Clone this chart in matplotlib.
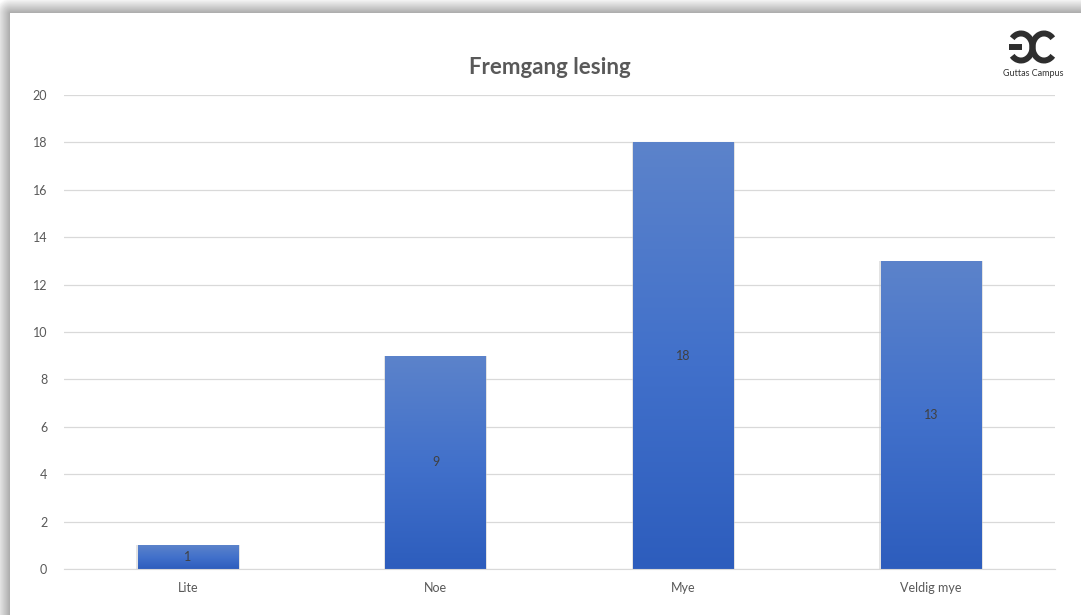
import matplotlib.pyplot as plt
import numpy as np
from matplotlib.colors import LinearSegmentedColormap
from matplotlib.patches import Arc

plt.rcParams['font.family'] = ['Lato', 'DejaVu Sans']

# data
categories = ['Lite', 'Noe', 'Mye', 'Veldig mye']
values = [1, 9, 18, 13]
yticks = [0, 2, 4, 6, 8, 10, 12, 14, 16, 18, 20]

W, H = 1081, 615
fig = plt.figure(figsize=(W / 100, H / 100), dpi=100)

# background: soft shadow around the white card (top and left)
bg = fig.add_axes([0, 0, 1, 1])
bg.set_axis_off()
xx, yy = np.meshgrid(np.arange(W), np.arange(H))
card_x0, card_y0 = 10, 13
dx = np.clip(card_x0 - xx, 0, None)
dy = np.clip(card_y0 - yy, 0, None)
d = np.sqrt(dx ** 2 + dy ** 2)
shade = np.where((xx >= card_x0) & (yy >= card_y0), 1.0, 0.66 + 0.022 * d)
shade = np.clip(shade, 0, 1)
bg.imshow(shade, cmap='gray', vmin=0, vmax=1, extent=[0, W, H, 0], aspect='auto')
bg.set_xlim(0, W)
bg.set_ylim(H, 0)

# logo (two arcs + bar)
lw = 4.3
bg.add_patch(Arc((1021, 47), 23, 27, theta1=-135, theta2=135, lw=lw, color='#2e2e2e'))
bg.plot([1009, 1022], [47, 47], color='#2e2e2e', lw=lw, solid_capstyle='butt')
bg.add_patch(Arc((1044, 47), 23, 27, theta1=45, theta2=315, lw=lw, color='#2e2e2e'))
bg.text(1033, 74, 'Guttas Campus', ha='center', va='center', fontsize=6.5, color='#333333')

ax = fig.add_axes([64 / W, 1 - 569 / H, 991 / W, 474 / H])
ax.set_facecolor('none')

x = np.arange(len(categories))
bars = ax.bar(x, values, width=0.405, color='none', zorder=3)

cmap = LinearSegmentedColormap.from_list('blu', ['#2d5dbd', '#4271cb', '#5c83ca'])
grad = np.linspace(0, 1, 256).reshape(-1, 1)
for b in bars:
    bx, by = b.get_x(), b.get_y()
    bw, bh = b.get_width(), b.get_height()
    im = ax.imshow(grad, cmap=cmap, origin='lower', aspect='auto',
                   extent=[bx, bx + bw, by, by + bh], zorder=3)
    im.set_clip_path(b)
    # faint shadow round the bar
    ax.bar(bx + bw / 2, bh, width=bw * 1.03, color='#c8c8c8', alpha=0.5, zorder=2.5)

for xi, v in zip(x, values):
    ax.text(xi, v / 2, str(v), ha='center', va='center', fontsize=9, color='#404040', zorder=4)

ax.set_xlim(-0.5, len(categories) - 0.5)
ax.set_ylim(0, 20)
ax.set_yticks(yticks)
ax.set_xticks(x)
ax.set_xticklabels(categories)
ax.tick_params(axis='both', length=0, labelsize=9, labelcolor='#595959')
ax.tick_params(axis='y', pad=12)
ax.tick_params(axis='x', pad=9)
ax.grid(axis='y', color='#d9d9d9', linewidth=0.9, zorder=0)
for s in ['top', 'right', 'left']:
    ax.spines[s].set_visible(False)
ax.spines['bottom'].set_color('#d9d9d9')
ax.spines['bottom'].set_zorder(5)

fig.text(550 / W, 1 - 67 / H, 'Fremgang lesing', ha='center', va='center',
         fontsize=16, fontweight='bold', color='#595959')

fig.savefig('out.png', dpi=100)
